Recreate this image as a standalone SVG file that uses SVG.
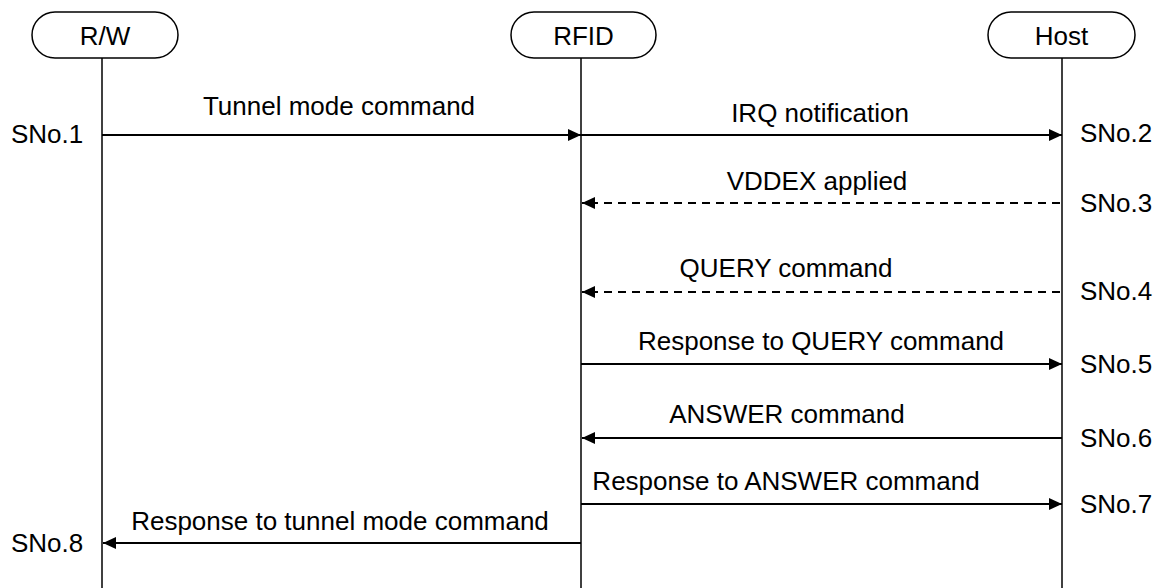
<svg xmlns="http://www.w3.org/2000/svg" width="1161" height="588" viewBox="0 0 1161 588">
  <defs>
    <style>
      .box { fill: #ffffff; stroke: #000000; stroke-width: 1.5; }
      .life { stroke: #000000; stroke-width: 1.5; fill: none; }
      .msg { stroke: #000000; stroke-width: 2; fill: none; marker-end: url(#arrow); }
      .dash { stroke-dasharray: 8 6; }
      text { font-family: "Liberation Sans", Arial, sans-serif; font-size: 26px; fill: #000000; }
      .c { text-anchor: middle; }
      .r { text-anchor: end; }
    </style>
    <marker id="arrow" markerUnits="userSpaceOnUse" markerWidth="14" markerHeight="12" refX="13" refY="6" orient="auto">
      <path d="M0,0 L13,6 L0,12 Z" fill="#000000"/>
    </marker>
  </defs>

  <g id="node-rw">
    <rect class="box" x="32" y="12" width="146" height="46" rx="23" ry="23"/>
    <text class="c" x="105" y="45">R/W</text>
  </g>
  <g id="node-rfid">
    <rect class="box" x="511" y="12" width="145" height="46" rx="23" ry="23"/>
    <text class="c" x="583.5" y="45">RFID</text>
  </g>
  <g id="node-host">
    <rect class="box" x="988" y="12" width="147" height="46" rx="23" ry="23"/>
    <text class="c" x="1061.5" y="45">Host</text>
  </g>

  <g id="lifelines">
    <line class="life" x1="102" y1="58" x2="102" y2="588"/>
    <line class="life" x1="581" y1="58" x2="581" y2="588"/>
    <line class="life" x1="1062" y1="58" x2="1062" y2="588"/>
  </g>

  <g id="connectors">
    <line class="msg" x1="102" y1="135" x2="581" y2="135"/>
    <line class="msg" x1="581" y1="135" x2="1062" y2="135"/>
    <line class="msg dash" x1="1060" y1="203" x2="582" y2="203"/>
    <line class="msg dash" x1="1060" y1="292" x2="582" y2="292"/>
    <line class="msg" x1="581" y1="364" x2="1062" y2="364"/>
    <line class="msg" x1="1062" y1="438" x2="582" y2="438"/>
    <line class="msg" x1="581" y1="504" x2="1062" y2="504"/>
    <line class="msg" x1="581" y1="543" x2="103" y2="543"/>
  </g>

  <g id="labels">
    <text class="c" x="339" y="115">Tunnel mode command</text>
    <text class="c" x="820" y="122">IRQ notification</text>
    <text class="c" x="817" y="190">VDDEX applied</text>
    <text class="c" x="786" y="277">QUERY command</text>
    <text class="c" x="821" y="350">Response to QUERY command</text>
    <text class="c" x="787" y="423">ANSWER command</text>
    <text class="c" x="786" y="490">Response to ANSWER command</text>
    <text class="c" x="340" y="530">Response to tunnel mode command</text>
  </g>

  <g id="step-numbers">
    <text x="11" y="143">SNo.1</text>
    <text x="1080" y="142">SNo.2</text>
    <text x="1080" y="212">SNo.3</text>
    <text x="1080" y="300">SNo.4</text>
    <text x="1080" y="373">SNo.5</text>
    <text x="1080" y="447">SNo.6</text>
    <text x="1080" y="513">SNo.7</text>
    <text x="11" y="552">SNo.8</text>
  </g>
</svg>
